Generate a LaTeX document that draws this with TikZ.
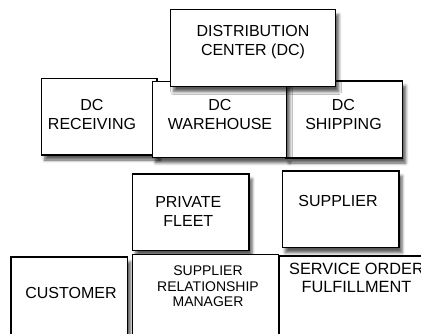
\documentclass[tikz,border=0pt]{standalone}
\usepackage{fontspec}
\setmainfont{Liberation Sans}
\usetikzlibrary{fit,shadows.blur}
\begin{document}
\begin{tikzpicture}[x=1pt,y=-1pt,
  box/.style={draw=black, line width=1.3pt, fill=white, inner sep=0pt,
    blur shadow={shadow xshift=3pt, shadow yshift=-5pt, shadow blur radius=3pt, shadow opacity=65}},
  lbl/.style={align=center, text=black, inner sep=0pt, font=\fontsize{16}{19}\selectfont},
  lbls/.style={align=center, text=black, inner sep=0pt, font=\fontsize{14}{15.8}\selectfont}]
\useasboundingbox (0,0) rectangle (421,333);
\clip (0,0) rectangle (421,333);
% top cluster
\node[box, fit={(41.7,78.7) (157,155)}] (rec) {};
\node[box, fit={(286,81) (402.7,158)}] (ship) {};
\node[box, fit={(152.7,81.7) (286.7,157.7)}] (wh) {};
\node[box, fit={(170.7,9.7) (335.7,86.7)}] (dc) {};
\node[lbl] (dct) at (253,42.5) {DISTRIBUTION\\CENTER (DC)};
\node[lbl] (rect) at (92,114) {DC\\RECEIVING};
\node[lbl] (wht) at (220,114) {DC\\WAREHOUSE};
\node[lbl] (shipt) at (343.5,114) {DC\\SHIPPING};
% middle row
\node[box, fit={(132.7,174) (249,250.3)}] (pf) {};
\node[box, fit={(282.3,171) (399,247.7)}] (sup) {};
\node[lbl] (pft) at (188.3,211.3) {PRIVATE\\FLEET};
\node[lbl] (supt) at (338,200.7) {SUPPLIER};
% bottom row
\node[box, fit={(11,257) (127.7,345)}] (cust) {};
\node[box, fit={(132.7,254.7) (278.3,345)}] (srm) {};
\node[box, fit={(279.3,256) (440,345)}] (sof) {};
\node[lbl] (custt) at (71,292.7) {CUSTOMER};
\node[lbls] (srmt) at (208,286.3) {SUPPLIER\\RELATIONSHIP\\MANAGER};
\node[lbl, font=\fontsize{16.3}{17.7}\selectfont] (soft) at (356.5,277.8) {SERVICE ORDER\\FULFILLMENT};
\end{tikzpicture}
\end{document}
